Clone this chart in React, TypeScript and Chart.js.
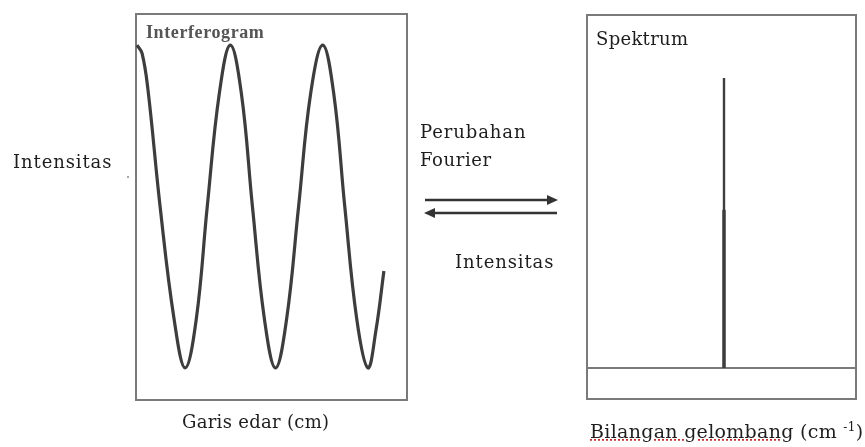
import React, { useEffect, useRef } from "react";
import { Chart, registerables } from "chart.js";

Chart.register(...registerables);

// ---- Data ----
// Interferogram: optical path ("Garis edar", arbitrary units) vs intensity
const pathPositions = [0.1, 0.6, 1.2, 2.4, 3.8, 4.9, 6.0, 7.1, 8.3, 9.4, 10.5, 11.6, 12.8, 13.9, 15.0, 16.2, 17.4, 18.6, 19.7, 20.8, 22.0, 23.1, 23.9, 24.7];
const interferogramIntensity = [1.0, 0.95, 0.72, 0.0, -0.7, -1.0, -0.7, 0.0, 0.7, 1.0, 0.7, 0.0, -0.7, -1.0, -0.7, 0.0, 0.7, 1.0, 0.7, 0.0, -0.7, -1.0, -0.77, -0.4];

// Spectrum: single line at one wavenumber
const spectrumWavenumbers = [13.7, 13.7];
const spectrumHeights = [1.0, 0.545];
const spectrumLineWidths = [2.4, 3.4];

// Text labels
const leftTitle = "Interferogram";
const rightTitle = "Spektrum";
const leftYLabel = "Intensitas";
const leftXLabel = "Garis edar (cm)";
const transformLines = ["Perubahan", "Fourier"];
const rightYLabel = "Intensitas";
const rightXLabelMain = "Bilangan gelombang";
const rightXLabelUnit = "(cm ";
const rightXLabelSup = "-1";

const FONT = "'DejaVu Serif', 'Liberation Serif', serif";
const BOX_COLOR = "#7a7a7a";
const LINE_COLOR = "#3d3d3d";

const boxPlugin = {
  id: "boxPlugin",
  beforeDatasetsDraw(chart: any, _args: any, opts: any) {
    const { ctx, chartArea } = chart;
    ctx.save();
    ctx.strokeStyle = BOX_COLOR;
    ctx.lineWidth = 2;
    ctx.strokeRect(chartArea.left, chartArea.top, chartArea.right - chartArea.left, chartArea.bottom - chartArea.top);
    if (opts && opts.baseline) {
      const y = chart.scales.y.getPixelForValue(0);
      ctx.beginPath();
      ctx.moveTo(chartArea.left, y);
      ctx.lineTo(chartArea.right, y);
      ctx.stroke();
    }
    ctx.restore();
  },
};

function Interferogram() {
  const ref = useRef<HTMLCanvasElement | null>(null);
  useEffect(() => {
    if (!ref.current) return;
    const chart = new Chart(ref.current, {
      type: "line",
      data: {
        datasets: [
          {
            data: pathPositions.map((x, i) => ({ x, y: interferogramIntensity[i] })),
            borderColor: LINE_COLOR,
            borderWidth: 3.2,
            pointRadius: 0,
            tension: 0.4,
            fill: false,
            clip: false,
          } as any,
        ],
      },
      options: {
        animation: false,
        responsive: false,
        events: [],
        layout: { padding: 4 },
        plugins: { legend: { display: false }, tooltip: { enabled: false }, boxPlugin: {} } as any,
        scales: {
          x: { type: "linear", min: 0, max: 27.0, display: false },
          y: { type: "linear", min: -1.199, max: 1.193, display: false },
        },
      },
      plugins: [boxPlugin],
    });
    return () => chart.destroy();
  }, []);
  return (
    <canvas
      ref={ref}
      width={279}
      height={394}
      style={{ position: "absolute", left: 132, top: 10 }}
    />
  );
}

function Spectrum() {
  const ref = useRef<HTMLCanvasElement | null>(null);
  useEffect(() => {
    if (!ref.current) return;
    const chart = new Chart(ref.current, {
      type: "line",
      data: {
        datasets: spectrumWavenumbers.map((wn, i) => ({
          data: [
            { x: wn, y: 0 },
            { x: wn, y: spectrumHeights[i] },
          ],
          borderColor: LINE_COLOR,
          borderWidth: spectrumLineWidths[i],
          pointRadius: 0,
          fill: false,
          clip: false,
        })) as any,
      },
      options: {
        animation: false,
        responsive: false,
        events: [],
        layout: { padding: 4 },
        plugins: { legend: { display: false }, tooltip: { enabled: false }, boxPlugin: { baseline: true } } as any,
        scales: {
          x: { type: "linear", min: 0, max: 26.9, display: false },
          y: { type: "linear", min: -0.107, max: 1.217, display: false },
        },
      },
      plugins: [boxPlugin],
    });
    return () => chart.destroy();
  }, []);
  return (
    <canvas
      ref={ref}
      width={277}
      height={392}
      style={{ position: "absolute", left: 583, top: 11 }}
    />
  );
}

function Label(props: { left: number; cy: number; size: number; ls?: number; children: any; style?: any }) {
  return (
    <div
      style={{
        position: "absolute",
        left: props.left,
        top: props.cy,
        transform: "translateY(-50%)",
        fontFamily: FONT,
        fontSize: props.size,
        letterSpacing: props.ls ?? 0,
        lineHeight: 1,
        color: "#1e1e1e",
        whiteSpace: "nowrap",
        ...(props.style || {}),
      }}
    >
      {props.children}
    </div>
  );
}

export default function App() {
  return (
    <div
      style={{
        position: "fixed",
        left: 0,
        top: 0,
        width: 865,
        height: 447,
        background: "#ffffff",
        overflow: "hidden",
      }}
    >
      <Interferogram />
      <Spectrum />

      <svg width={865} height={447} style={{ position: "absolute", left: 0, top: 0 }}>
        <line x1={425} y1={200} x2={550} y2={200} stroke="#333" strokeWidth={2.5} />
        <polygon points="558,200 547,195 547,205" fill="#333" />
        <line x1={432} y1={213} x2={557} y2={213} stroke="#333" strokeWidth={2.5} />
        <polygon points="424,213 435,208 435,218" fill="#333" />
        <circle cx={128} cy={177} r={1} fill="#888" />
      </svg>

      <Label left={146} cy={32} size={18} ls={0.6} style={{ color: "#555", fontWeight: "bold", fontFamily: "'Liberation Serif', serif" }}>
        {leftTitle}
      </Label>
      <Label left={596} cy={39} size={18} ls={0.3}>{rightTitle}</Label>
      <Label left={13} cy={162} size={18} ls={0.9}>{leftYLabel}</Label>
      <Label left={420} cy={132} size={18} ls={0.9}>{transformLines[0]}</Label>
      <Label left={420} cy={160} size={18} ls={0.6}>{transformLines[1]}</Label>
      <Label left={455} cy={262} size={18} ls={0.9}>{rightYLabel}</Label>
      <Label left={182} cy={422} size={18} ls={0.3}>{leftXLabel}</Label>
      <Label left={590} cy={431} size={19} ls={0.3}>
        <span style={{ textDecoration: "underline dotted #c03030" }}>{rightXLabelMain}</span>
        {" "}
        {rightXLabelUnit}
        <sup style={{ fontSize: 12 }}>{rightXLabelSup}</sup>)
      </Label>
    </div>
  );
}
